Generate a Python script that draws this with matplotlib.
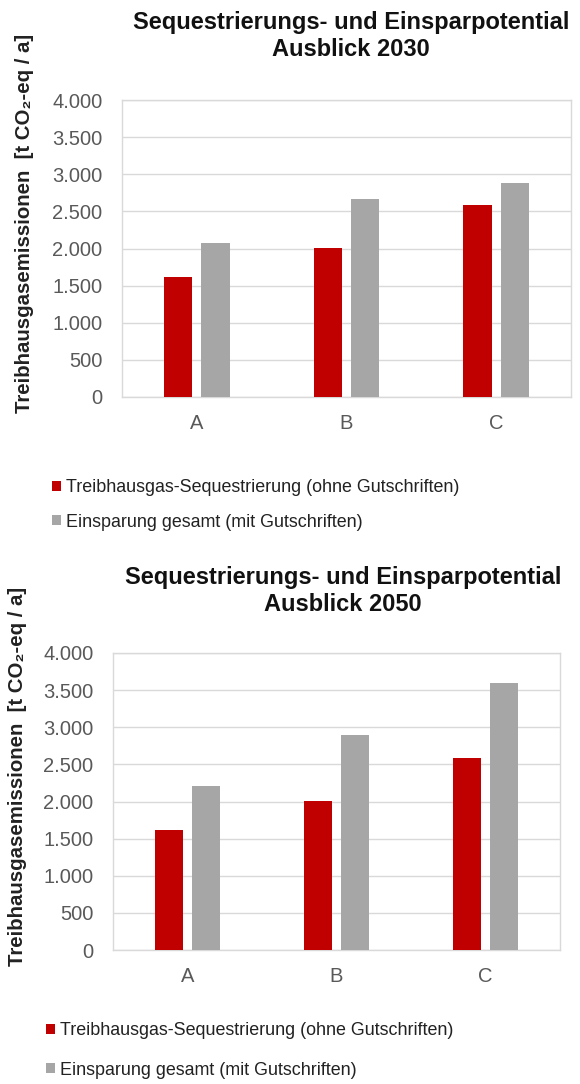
import matplotlib
matplotlib.use("Agg")
import matplotlib.pyplot as plt
from matplotlib.patches import Patch
import numpy as np

plt.rcParams['font.family'] = ['Liberation Sans', 'DejaVu Sans']

categories = ["A", "B", "C"]
series_names = ["Treibhausgas-Sequestrierung (ohne Gutschriften)",
                "Einsparung gesamt (mit Gutschriften)"]
seq_2030 = [1610, 2010, 2590]
total_2030 = [2070, 2660, 2880]
seq_2050 = [1610, 2010, 2590]
total_2050 = [2210, 2900, 3600]
yticks = [0, 500, 1000, 1500, 2000, 2500, 3000, 3500, 4000]
ytick_labels = ["0", "500", "1.000", "1.500", "2.000", "2.500", "3.000", "3.500", "4.000"]
titles = ["Sequestrierungs- und Einsparpotential\nAusblick 2030",
          "Sequestrierungs- und Einsparpotential\nAusblick 2050"]
ylabel = "Treibhausgasemissionen  [t CO\u2082-eq / a]"

RED = "#C00000"
GRAY = "#A6A6A6"
TICKC = "#595959"
GRIDC = "#D9D9D9"

W, H = 580, 1084
fig = plt.figure(figsize=(W / 100, H / 100), dpi=100)

def fx(px):
    return px / W

def fy(py):
    return 1 - py / H

panels = [
    dict(box=(122, 100, 571, 397), data=(seq_2030, total_2030), title=titles[0],
         title_xy=(351, 36), ylab_xy=(25, 223), leg_xy=(52, 479), ls=0.98),
    dict(box=(113, 653, 560, 950), data=(seq_2050, total_2050), title=titles[1],
         title_xy=(343, 591), ylab_xy=(18, 776), leg_xy=(46, 1022), ls=1.26),
]

bw = 0.19
off = 0.125
for p in panels:
    l, t, r, b = p["box"]
    ax = fig.add_axes([fx(l), fy(b), fx(r) - fx(l), fy(t) - fy(b)])
    x = np.arange(len(categories))
    s1, s2 = p["data"]
    ax.bar(x - off, s1, bw, color=RED, zorder=3, label=series_names[0])
    ax.bar(x + off, s2, bw, color=GRAY, zorder=3, label=series_names[1])
    ax.set_xlim(-0.5, 2.5)
    ax.set_ylim(0, 4000)
    ax.set_yticks(yticks)
    ax.set_yticklabels(ytick_labels)
    ax.set_xticks(x)
    ax.set_xticklabels(categories)
    ax.tick_params(axis="both", length=0, labelsize=14.5, colors=TICKC)
    ax.tick_params(axis="y", pad=14)
    ax.tick_params(axis="x", pad=12)
    ax.yaxis.grid(True, color=GRIDC, linewidth=1.0, zorder=0)
    for sp in ax.spines.values():
        sp.set_color(GRIDC)
        sp.set_linewidth(1.0)
    fig.text(fx(p["title_xy"][0]), fy(p["title_xy"][1]), p["title"],
             ha="center", va="center", fontsize=17, fontweight="bold",
             color="#111111", linespacing=1.2)
    fig.text(fx(p["ylab_xy"][0]), fy(p["ylab_xy"][1]), ylabel, rotation=90,
             ha="center", va="center", fontsize=14.7, fontweight="bold", color="#222222")
    handles = [Patch(facecolor=RED), Patch(facecolor=GRAY)]
    fig.legend(handles, series_names, loc="upper left",
               bbox_to_anchor=(fx(p["leg_xy"][0]), fy(p["leg_xy"][1])),
               frameon=False, fontsize=12.9, handlelength=0.5, handleheight=0.5,
               handletextpad=0.3, labelspacing=p["ls"], borderaxespad=0, borderpad=0,
               labelcolor="#222222")

fig.savefig("out.png", dpi=100, facecolor="white")
